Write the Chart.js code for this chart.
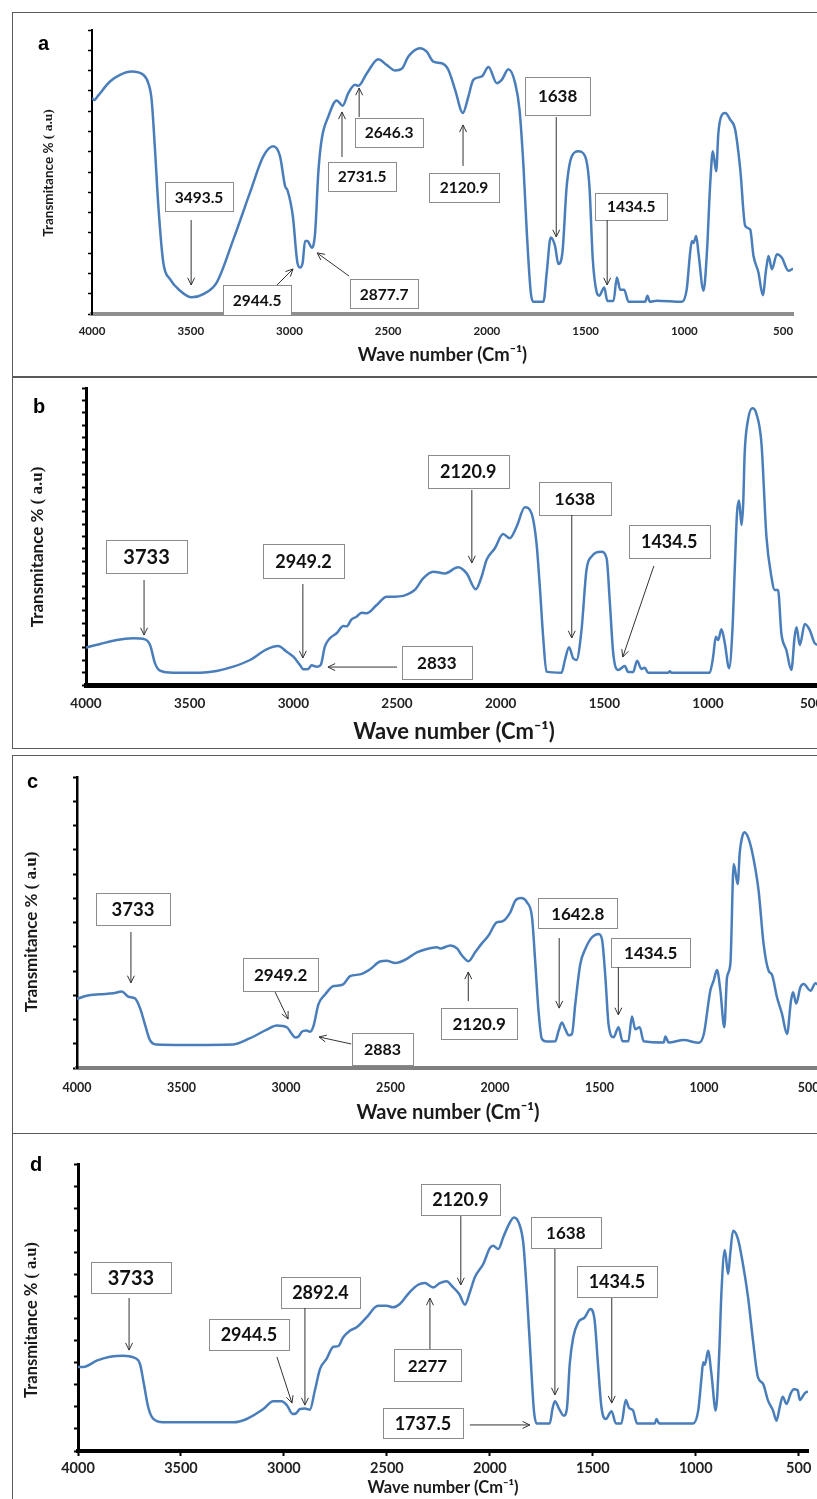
<!DOCTYPE html>
<html>
<head>
<meta charset="utf-8">
<script src="https://cdn.jsdelivr.net/npm/chart.js@4.4.0/dist/chart.umd.min.js"></script>
<style>
    html, body { margin: 0; padding: 0; background: #fff; width: 817px; height: 1499px; overflow: hidden; }
    body { position: relative; }
    .frame { position: absolute; left: 12px; width: 900px; box-sizing: border-box; border: 1px solid #5a5a5a; border-right: none; }
    canvas { position: absolute; left: 0; }
</style>
</head>
<body>
<div class="frame" style="top:12px;height:365px"></div>
<div class="frame" style="top:377px;height:372px"></div>
<div class="frame" style="top:755px;height:379px"></div>
<div class="frame" style="top:1133px;height:400px;border-bottom:none"></div>
<canvas id="chartA" width="850" height="363" style="top:13px"></canvas>
<canvas id="chartB" width="850" height="370" style="top:378px"></canvas>
<canvas id="chartC" width="850" height="377" style="top:756px"></canvas>
<canvas id="chartD" width="850" height="365" style="top:1134px"></canvas>
<script>
// x axis tick labels (wavenumber, cm-1)
const xTicks = [4000, 3500, 3000, 2500, 2000, 1500, 1000, 500];

// spectrum a
const waveA = [4000, 3988, 3970, 3909, 3858, 3799, 3740, 3715, 3698, 3681, 3664, 3639, 3605, 3554, 3495, 3436, 3368, 3284, 3200, 3132,
    3082, 3048, 3022, 3010, 2983, 2960, 2946, 2933, 2921, 2909, 2887, 2870, 2854, 2837, 2803, 2761, 2731, 2702, 2668, 2651,
    2608, 2550, 2508, 2465, 2430, 2398, 2338, 2305, 2271, 2229, 2195, 2161, 2122, 2094, 2069, 2026, 1992, 1950, 1925, 1891,
    1857, 1835, 1815, 1798, 1778, 1765, 1714, 1697, 1677, 1655, 1638, 1618, 1596, 1570, 1537, 1503, 1481, 1464, 1444, 1431,
    1406, 1390, 1359, 1342, 1325, 1305, 1283, 1199, 1187, 1175, 1140, 1013, 988, 971, 962, 954, 940, 929, 903, 886,
    869, 856, 839, 828, 810, 793, 768, 743, 717, 692, 667, 650, 625, 603, 586, 574, 557, 531, 507, 473, 450];
const transA = [10.65, 10.55, 10.75, 11.46, 11.79, 11.95, 11.79, 11.38, 10.56, 8.1, 5.32, 2.54, 1.72, 1.15, 0.82, 0.98, 1.56, 3.68, 5.98, 7.78,
    8.27, 7.78, 6.3, 6.1, 4.83, 2.54, 2.29, 2.54, 3.6, 3.6, 3.27, 4.01, 6.96, 8.6, 9.74, 10.53, 10.27, 10.89, 11.3, 11.25,
    11.87, 12.56, 12.28, 12.0, 12.1, 12.69, 13.1, 12.93, 12.44, 12.36, 12.03, 11.05, 9.91, 10.72, 11.54, 11.71, 12.17, 11.38, 11.54, 12.07,
    11.38, 10.07, 7.28, 4.01, 1.07, 0.6, 0.6, 2.05, 3.77, 3.35, 2.46, 3.0, 6.3, 7.78, 8.02, 7.78, 6.3, 2.7, 1.07, 0.9,
    1.31, 0.64, 0.64, 1.8, 1.2, 1.2, 0.6, 0.6, 0.9, 0.6, 0.65, 0.6, 1.23, 3.03, 3.6, 3.5, 3.85, 3.03, 1.15, 3.03,
    6.47, 8.02, 7.04, 8.92, 9.82, 9.91, 9.58, 9.09, 7.12, 4.34, 4.17, 2.86, 2.05, 0.93, 2.21, 2.86, 2.21, 2.95, 2.78, 2.13, 2.24];
const peaksA = ['3493.5', '2944.5', '2877.7', '2731.5', '2646.3', '2120.9', '1638', '1434.5'];

// spectrum b
const waveB = [4000, 3994, 3932, 3852, 3772, 3716, 3691, 3667, 3643, 3579, 3450, 3370, 3290, 3209, 3129, 3073, 3032, 3000, 2968, 2952,
    2928, 2912, 2888, 2868, 2848, 2824, 2791, 2759, 2743, 2719, 2695, 2671, 2647, 2598, 2550, 2510, 2470, 2454, 2414, 2374,
    2325, 2269, 2205, 2164, 2120, 2092, 2068, 2028, 1988, 1956, 1923, 1883, 1851, 1827, 1811, 1795, 1779, 1706, 1690, 1670,
    1650, 1634, 1610, 1586, 1562, 1514, 1489, 1473, 1457, 1433, 1401, 1385, 1361, 1342, 1321, 1305, 1289, 1192, 1184, 1176,
    991, 975, 962, 951, 935, 919, 898, 882, 871, 860, 850, 838, 830, 823, 807, 786, 767, 742, 718, 694,
    678, 662, 646, 622, 598, 582, 573, 557, 533, 509, 485, 460];
const transB = [3.0, 3.05, 3.31, 3.64, 3.77, 3.69, 3.23, 1.75, 1.16, 0.99, 0.99, 1.13, 1.48, 2.02, 2.88, 3.15, 2.69, 2.29, 1.62, 1.27,
    1.3, 1.59, 1.48, 1.62, 3.1, 3.77, 4.18, 4.77, 4.74, 5.31, 5.52, 5.84, 5.8, 6.46, 7.14, 7.14, 7.2, 7.3, 7.68, 8.62,
    9.16, 9.02, 9.51, 9.02, 7.73, 8.75, 10.1, 11.05, 12.2, 11.85, 12.79, 14.36, 13.87, 11.45, 7.94, 3.9, 1.08, 1.0, 2.02, 3.05,
    2.15, 2.02, 4.44, 9.29, 10.37, 10.77, 10.24, 6.6, 2.56, 1.21, 1.54, 1.05, 1.05, 1.96, 1.3, 1.4, 1.0, 1.0, 1.12, 1.0,
    1.0, 2.29, 3.9, 3.64, 4.5, 3.4, 1.35, 4.44, 9.29, 13.87, 14.9, 12.93, 14.7, 18.72, 21.41, 22.36, 21.95, 19.53, 11.98, 8.75,
    7.68, 7.68, 4.18, 2.83, 1.21, 3.9, 4.66, 3.23, 4.93, 4.44, 3.37, 3.2];
const peaksB = ['3733', '2949.2', '2833', '2120.9', '1638', '1434.5'];

// spectrum c
const waveC = [4000, 3954, 3890, 3826, 3786, 3754, 3722, 3698, 3674, 3651, 3619, 3491, 3252, 3172, 3092, 3044, 2996, 2972, 2956, 2940,
    2924, 2903, 2885, 2869, 2845, 2813, 2773, 2749, 2726, 2693, 2646, 2598, 2550, 2518, 2478, 2454, 2422, 2374, 2326, 2278,
    2262, 2214, 2182, 2158, 2127, 2095, 2063, 2031, 1991, 1967, 1927, 1903, 1876, 1847, 1823, 1808, 1792, 1776, 1752, 1712,
    1696, 1680, 1664, 1648, 1632, 1616, 1592, 1568, 1536, 1504, 1488, 1472, 1457, 1433, 1409, 1390, 1362, 1345, 1329, 1308,
    1289, 1193, 1185, 1169, 1097, 1025, 1001, 970, 954, 938, 922, 903, 890, 874, 858, 839, 829, 818, 807, 786,
    763, 739, 715, 691, 675, 651, 627, 603, 584, 574, 559, 539, 523, 491, 467, 450];
const transC = [2.85, 2.98, 3.04, 3.08, 3.15, 2.94, 2.87, 2.46, 1.77, 1.15, 0.97, 0.95, 0.97, 1.23, 1.58, 1.75, 1.68, 1.4, 1.26, 1.3,
    1.5, 1.55, 1.5, 1.72, 2.62, 3.03, 3.38, 3.4, 3.45, 3.79, 3.86, 4.07, 4.39, 4.42, 4.33, 4.37, 4.5, 4.77, 4.91, 4.98,
    4.93, 5.05, 4.93, 4.64, 4.4, 4.77, 5.14, 5.46, 6.01, 6.04, 6.42, 6.9, 7.01, 6.83, 6.21, 4.42, 2.36, 1.2, 1.09, 1.1,
    1.53, 1.88, 1.6, 1.35, 1.4, 2.64, 4.29, 4.91, 5.39, 5.53, 5.3, 3.74, 1.81, 1.27, 1.68, 1.1, 1.1, 2.12, 1.6, 1.68,
    1.1, 1.05, 1.3, 1.05, 1.15, 1.04, 1.4, 3.19, 3.6, 4.04, 3.2, 1.68, 3.74, 4.3, 8.41, 7.59, 8.9, 9.51, 9.72, 9.44,
    8.62, 7.31, 5.11, 4.01, 3.85, 2.92, 2.23, 1.4, 2.78, 3.12, 2.66, 3.33, 3.46, 3.19, 3.5, 3.4];
const peaksC = ['3733', '2949.2', '2883', '2120.9', '1642.8', '1434.5'];

// spectrum d
const waveD = [4000, 3966, 3909, 3845, 3780, 3731, 3699, 3680, 3659, 3634, 3586, 3246, 3181, 3100, 3052, 3011, 2984, 2958, 2942, 2922,
    2898, 2874, 2850, 2825, 2793, 2760, 2736, 2712, 2680, 2647, 2599, 2543, 2502, 2470, 2437, 2390, 2348, 2316, 2275, 2243,
    2211, 2178, 2149, 2121, 2097, 2073, 2032, 2000, 1984, 1959, 1935, 1911, 1883, 1857, 1837, 1821, 1802, 1786, 1773, 1709,
    1696, 1684, 1663, 1641, 1626, 1612, 1595, 1571, 1539, 1512, 1491, 1475, 1458, 1437, 1409, 1388, 1361, 1340, 1324, 1305,
    1285, 1199, 1191, 1178, 1013, 988, 972, 964, 956, 940, 924, 903, 887, 875, 859, 843, 832, 819, 795, 771,
    746, 722, 698, 673, 649, 625, 608, 592, 578, 559, 539, 524, 505, 495, 471, 455];
const transD = [3.8, 3.82, 4.09, 4.27, 4.32, 4.24, 3.94, 3.03, 1.98, 1.45, 1.3, 1.3, 1.45, 1.9, 2.25, 2.25, 2.05, 1.68, 1.7, 1.9,
    1.92, 1.87, 2.73, 3.71, 4.17, 4.72, 4.75, 5.15, 5.45, 5.6, 6.05, 6.58, 6.58, 6.51, 6.66, 7.19, 7.53, 7.61, 7.41, 7.6,
    7.69, 7.41, 7.11, 6.63, 7.19, 7.87, 8.47, 9.19, 9.3, 9.15, 9.68, 10.2, 10.58, 10.28, 9.37, 7.26, 4.24, 1.83, 1.25, 1.25,
    1.9, 2.25, 1.9, 1.6, 1.9, 3.94, 5.15, 5.83, 6.05, 6.43, 5.9, 3.94, 1.98, 1.45, 1.8, 1.25, 1.25, 2.31, 1.95, 1.84,
    1.25, 1.25, 1.45, 1.25, 1.25, 1.84, 3.34, 4.02, 3.9, 4.54, 3.5, 1.83, 4.24, 7.26, 9.1, 8.02, 9.0, 9.98, 9.6, 8.47,
    6.96, 5.0, 3.34, 3.04, 2.28, 1.84, 1.37, 2.0, 2.46, 2.13, 2.61, 2.8, 2.75, 2.31, 2.61, 2.7];
const peaksD = ['3733', '2944.5', '2892.4', '2277', '1737.5', '2120.9', '1638', '1434.5'];

// callout placement: box centre and arrow ends in axis units, box size in px
const calloutsA = [
    { box: [3458, 5.79], size: [68, 29], from: [3498, 4.63], to: [3498, 1.43] },
    { box: [3164, 0.69], size: [68, 30], from: [3063, 1.43], to: [2982, 2.22] },
    { box: [2521, 1.01], size: [68, 29], from: [2698, 1.87], to: [2860, 3.01] },
    { box: [2632, 6.78], size: [68, 29], from: [2734, 7.74], to: [2734, 9.96] },
    { box: [2495, 8.95], size: [68, 29], from: [2647, 9.71], to: [2647, 11.14] },
    { box: [2116, 6.24], size: [70, 29], from: [2121, 7.3], to: [2121, 9.32] },
    { box: [1642, 10.75], size: [65, 38], from: [1649, 9.71], to: [1649, 3.8], font: 17 },
    { box: [1269, 5.3], size: [72, 27], from: [1391, 4.63], to: [1391, 1.43] }
];
const calloutsB = [
    { box: [3708, 10.38], size: [81, 33], from: [3720, 8.48], to: [3720, 4.04], font: 20 },
    { box: [2951, 10.02], size: [81, 34], from: [2954, 8.16], to: [2954, 2.18] },
    { box: [2308, 1.82], size: [70, 33], from: [2500, 1.45], to: [2833, 1.45], font: 17 },
    { box: [2156, 17.25], size: [81, 33], from: [2139, 15.76], to: [2139, 9.86] },
    { box: [1642, 15.07], size: [72, 33], from: [1657, 13.74], to: [1657, 3.8], font: 17.5 },
    { box: [1187, 11.6], size: [81, 33], from: [1261, 9.62], to: [1411, 2.26] }
];
const calloutsC = [
    { box: [3732, 6.56], size: [74, 32], from: [3742, 5.61], to: [3742, 3.51], font: 18.5 },
    { box: [3026, 3.86], size: [75, 33], from: [3052, 3.13], to: [2990, 2.02] },
    { box: [2538, 0.78], size: [61, 32], from: [2688, 0.99], to: [2842, 1.28], font: 16 },
    { box: [2076, 1.84], size: [76, 31], from: [2128, 2.76], to: [2128, 3.96] },
    { box: [1604, 6.39], size: [79, 30], from: [1693, 5.36], to: [1693, 2.47] },
    { box: [1255, 4.76], size: [79, 29], from: [1410, 4.16], to: [1410, 2.19] }
];
const calloutsD = [
    { box: [3743, 7.86], size: [80, 31], from: [3752, 6.93], to: [3752, 4.57], font: 20 },
    { box: [3170, 5.28], size: [80, 31], from: [3034, 4.26], to: [2961, 2.17] },
    { box: [2823, 7.18], size: [79, 31], from: [2898, 6.48], to: [2898, 2.08] },
    { box: [2303, 3.89], size: [67, 32], from: [2291, 4.62], to: [2291, 6.93], font: 17 },
    { box: [2325, 1.27], size: [80, 30], from: [2097, 1.18], to: [1806, 1.18] },
    { box: [2143, 11.39], size: [79, 31], from: [2141, 10.64], to: [2141, 7.52] },
    { box: [1631, 9.9], size: [70, 31], from: [1684, 9.15], to: [1684, 2.54], font: 17 },
    { box: [1383, 7.68], size: [80, 31], from: [1408, 6.93], to: [1408, 2.17] }
];

const SANS = 'Lato, "Open Sans", sans-serif';
const SERIF = '"Liberation Serif", "DejaVu Serif", serif';

// boxes, arrows, panel letter and the two-font y title
const decorPlugin = {
    id: 'decor',
    afterDraw(chart, args, o) {
        const ctx = chart.ctx;
        const xs = chart.scales.x, ys = chart.scales.y;
        ctx.save();

        o.callouts.forEach((c, i) => {
            const bx = xs.getPixelForValue(c.box[0]);
            const by = ys.getPixelForValue(c.box[1]);
            const [w, h] = c.size;
            const left = Math.round(bx - w / 2) + 0.5, top = Math.round(by - h / 2) + 0.5;
            ctx.fillStyle = '#fff';
            ctx.fillRect(left, top, w, h);
            ctx.strokeStyle = '#8c8c8c';
            ctx.lineWidth = 1;
            ctx.strokeRect(left, top, w, h);
            ctx.fillStyle = '#111';
            ctx.font = 'bold ' + (c.font || o.font) + 'px ' + SANS;
            ctx.textAlign = 'center';
            ctx.textBaseline = 'middle';
            ctx.fillText(o.peaks[i], bx, by + 1);

            // arrow with open head
            const x1 = xs.getPixelForValue(c.from[0]), y1 = ys.getPixelForValue(c.from[1]);
            const x2 = xs.getPixelForValue(c.to[0]), y2 = ys.getPixelForValue(c.to[1]);
            const ang = Math.atan2(y2 - y1, x2 - x1);
            ctx.strokeStyle = '#333';
            ctx.lineWidth = 1;
            ctx.beginPath();
            ctx.moveTo(x1, y1);
            ctx.lineTo(x2, y2);
            ctx.moveTo(x2 - 8 * Math.cos(ang - 0.45), y2 - 8 * Math.sin(ang - 0.45));
            ctx.lineTo(x2, y2);
            ctx.lineTo(x2 - 8 * Math.cos(ang + 0.45), y2 - 8 * Math.sin(ang + 0.45));
            ctx.stroke();
        });

        // panel letter
        ctx.fillStyle = '#000';
        ctx.font = 'bold 20px "Liberation Sans", Arial, sans-serif';
        ctx.textAlign = 'left';
        ctx.textBaseline = 'alphabetic';
        ctx.fillText(o.letter, o.letterPos[0], o.letterPos[1]);

        // y title: sans part + serif part, rotated
        const t = o.yTitle;
        const part1 = 'Transmitance % ', part2 = '( a.u)';
        const f1 = 'bold ' + t.size + 'px ' + SANS;
        const f2 = 'bold ' + t.size + 'px ' + SERIF;
        ctx.font = f1;
        const w1 = ctx.measureText(part1).width;
        ctx.font = f2;
        const w2 = ctx.measureText(part2).width;
        ctx.translate(t.x, t.y);
        ctx.rotate(-Math.PI / 2);
        ctx.textBaseline = 'middle';
        ctx.fillStyle = '#1a1a1a';
        ctx.font = f1;
        ctx.fillText(part1, -(w1 + w2) / 2, 0);
        ctx.font = f2;
        ctx.fillText(part2, -(w1 + w2) / 2 + w1, 0);
        ctx.restore();
    }
};

const panels = [
    {
        id: 'chartA', letter: 'a', wave: waveA, trans: transA, peaks: peaksA, callouts: calloutsA, font: 15.5,
        top: 13, height: 363, area: { l: 92, t: 30, r: 793, b: 314 }, yMax: 14, xMin: 450,
        yAxisWidth: 2, yTickWidth: 1.5, yTickLen: 4,
        xAxisColor: '#8f8f8f', xAxisWidth: 4, xTickLen: 0,
        labelSize: 11.5, labelPad: 10, titleSize: 18.5, titlePad: 10,
        letterPos: [38, 50], yTitle: { x: 49, y: 173, size: 13.5 }
    },
    {
        id: 'chartB', letter: 'b', wave: waveB, trans: transB, peaks: peaksB, callouts: calloutsB, font: 18,
        top: 378, height: 370, area: { l: 86, t: 388, r: 822, b: 685 }, yMax: 24, xMin: 450,
        yAxisWidth: 3, yTickWidth: 2, yTickLen: 4,
        xAxisColor: '#000', xAxisWidth: 5, xTickLen: 0,
        labelSize: 13.5, labelPad: 11, titleSize: 22, titlePad: 3,
        letterPos: [33, 413], yTitle: { x: 38, y: 547, size: 17 }
    },
    {
        id: 'chartC', letter: 'c', wave: waveC, trans: transC, peaks: peaksC, callouts: calloutsC, font: 17,
        top: 756, height: 377, area: { l: 77, t: 777, r: 819, b: 1068 }, yMax: 12, xMin: 450,
        yAxisWidth: 2.5, yTickWidth: 2, yTickLen: 4,
        xAxisColor: '#808080', xAxisWidth: 4, xTickLen: 0,
        labelSize: 12.5, labelPad: 12, titleSize: 20, titlePad: 8,
        letterPos: [27, 788], yTitle: { x: 32, y: 932, size: 17 }
    },
    {
        id: 'chartD', letter: 'd', wave: waveD, trans: transD, peaks: peaksD, callouts: calloutsD, font: 18,
        top: 1134, height: 365, area: { l: 78, t: 1164, r: 808, b: 1451 }, yMax: 13, xMin: 455,
        yAxisWidth: 3, yTickWidth: 2, yTickLen: 4,
        xAxisColor: '#000', xAxisWidth: 4, xTickLen: 5,
        labelSize: 14.5, labelPad: 4, titleSize: 16.5, titlePad: 1,
        letterPos: [30, 1171], yTitle: { x: 32, y: 1320, size: 16.5 }
    }
];

panels.forEach(p => {
    const canvas = document.getElementById(p.id);
    const top = p.top;
    new Chart(canvas.getContext('2d'), {
        type: 'line',
        data: {
            datasets: [{
                data: p.wave.map((w, i) => ({ x: w, y: p.trans[i] })),
                borderColor: '#4a7ebb',
                borderWidth: 2.5,
                pointRadius: 0,
                fill: false,
                cubicInterpolationMode: 'monotone'
            }]
        },
        options: {
            responsive: false,
            animation: false,
            devicePixelRatio: 1,
            layout: { padding: { left: 0, top: p.area.t - top, right: canvas.width - p.area.r, bottom: 0 } },
            plugins: {
                legend: { display: false },
                tooltip: { enabled: false },
                decor: {
                    callouts: p.callouts, peaks: p.peaks, font: p.font, letter: p.letter,
                    letterPos: [p.letterPos[0], p.letterPos[1] - top],
                    yTitle: { x: p.yTitle.x, y: p.yTitle.y - top, size: p.yTitle.size }
                }
            },
            scales: {
                x: {
                    type: 'linear',
                    reverse: true,
                    min: p.xMin,
                    max: 4000,
                    afterBuildTicks: s => { s.ticks = xTicks.slice().reverse().map(v => ({ value: v })); },
                    afterFit: s => { s.height = top + canvas.height - p.area.b; },
                    ticks: {
                        autoSkip: false, maxRotation: 0, padding: p.labelPad, color: '#222',
                        font: { family: SANS, size: p.labelSize, weight: 'bold' },
                        callback: v => String(v)
                    },
                    grid: {
                        display: p.xTickLen > 0, drawOnChartArea: false, drawTicks: p.xTickLen > 0,
                        tickLength: p.xTickLen, tickWidth: 2, color: '#000'
                    },
                    border: { display: true, color: p.xAxisColor, width: p.xAxisWidth },
                    title: {
                        display: true, text: 'Wave number (Cm\u207B\u00B9)', color: '#1a1a1a',
                        font: { family: SANS, size: p.titleSize, weight: 'bold' },
                        padding: { top: 0, bottom: p.titlePad }
                    }
                },
                y: {
                    min: 0,
                    max: p.yMax,
                    afterFit: s => { s.width = p.area.l; },
                    ticks: { display: false, stepSize: 1 },
                    grid: {
                        display: true, drawOnChartArea: false, drawTicks: true,
                        tickLength: p.yTickLen, tickWidth: p.yTickWidth, color: '#000'
                    },
                    border: { display: true, color: '#000', width: p.yAxisWidth }
                }
            }
        },
        plugins: [decorPlugin]
    });
});
</script>
</body>
</html>
